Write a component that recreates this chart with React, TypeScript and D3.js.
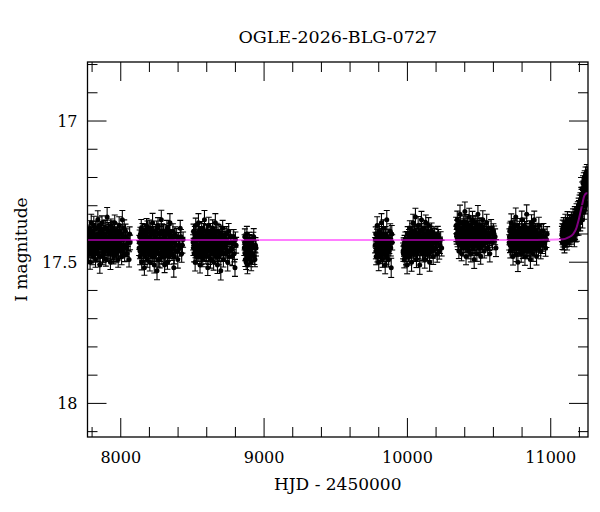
import React from "react";
import * as d3 from "d3";

// [HJD - 2450000, I mag, error] per observing season
type Obs = [number, number, number];

const season2017: Obs[] = [
  [7772,17.42,0.024],[7775,17.47,0.027],[7779,17.39,0.022],[7783,17.44,0.031],[7786,17.50,0.025],[7790,17.41,0.028],[7794,17.36,0.030],[7797,17.45,0.023],[7801,17.43,0.026],[7806,17.48,0.029],
  [7809,17.40,0.024],[7812,17.37,0.033],[7816,17.46,0.025],[7821,17.42,0.021],[7824,17.49,0.028],[7828,17.38,0.026],[7831,17.44,0.030],[7835,17.41,0.024],[7840,17.35,0.032],[7843,17.47,0.027],
  [7847,17.43,0.023],[7851,17.40,0.025],[7854,17.51,0.029],[7858,17.39,0.022],[7862,17.45,0.026],[7866,17.42,0.031],[7869,17.36,0.024],[7873,17.48,0.027],[7878,17.44,0.025],[7881,17.40,0.030],
  [7885,17.46,0.023],[7889,17.38,0.028],[7893,17.43,0.026],[7896,17.49,0.024],[7900,17.41,0.029],[7905,17.34,0.034],[7908,17.45,0.025],[7912,17.42,0.022],[7916,17.47,0.027],[7919,17.39,0.024],
  [7923,17.44,0.030],[7928,17.50,0.026],[7931,17.37,0.023],[7935,17.43,0.028],[7939,17.41,0.025],[7943,17.46,0.031],[7946,17.38,0.024],[7950,17.48,0.026],[7955,17.42,0.029],[7958,17.36,0.027],
  [7962,17.45,0.023],[7966,17.40,0.025],[7970,17.47,0.030],[7973,17.43,0.024],[7978,17.39,0.026],[7982,17.49,0.028],[7985,17.44,0.022],[7989,17.37,0.031],[7994,17.42,0.025],[7998,17.46,0.027],
  [8002,17.40,0.024],[8006,17.48,0.029],[8011,17.35,0.033],[8016,17.44,0.026],[8021,17.41,0.023],[8027,17.47,0.028],[8033,17.39,0.025],[8040,17.45,0.030],[8049,17.42,0.024],[8058,17.49,0.027],[8065,17.43,0.026],
  [7774,17.44,0.026],[7777,17.41,0.029],[7781,17.46,0.024],[7784,17.38,0.027],[7788,17.43,0.025],[7792,17.47,0.030],[7795,17.40,0.023],[7799,17.42,0.028],[7803,17.45,0.025],[7807,17.39,0.027],
  [7810,17.44,0.029],[7814,17.41,0.024],[7818,17.47,0.026],[7822,17.43,0.031],[7826,17.38,0.025],[7829,17.45,0.027],[7833,17.42,0.023],[7837,17.46,0.028],[7841,17.40,0.026],[7845,17.44,0.024],
  [7849,17.37,0.030],[7852,17.43,0.025],[7856,17.48,0.027],[7860,17.41,0.029],[7864,17.44,0.024],[7867,17.39,0.026],[7871,17.45,0.028],[7875,17.42,0.025],[7879,17.47,0.030],[7883,17.40,0.023],
  [7887,17.43,0.027],[7891,17.45,0.025],[7895,17.38,0.029],[7898,17.44,0.026],[7902,17.41,0.024],[7906,17.46,0.028],[7910,17.43,0.025],[7914,17.39,0.030],[7918,17.45,0.027],[7921,17.42,0.024],
  [7925,17.47,0.026],[7929,17.40,0.029],[7933,17.44,0.025],[7937,17.38,0.027],[7941,17.43,0.023],[7944,17.46,0.028],[7948,17.41,0.026],[7952,17.44,0.024],[7956,17.39,0.030],[7960,17.47,0.027],
  [7964,17.42,0.025],[7968,17.45,0.029],[7971,17.40,0.024],[7975,17.44,0.026],[7980,17.41,0.028],[7983,17.46,0.025],[7987,17.43,0.027],[7991,17.39,0.024],[7996,17.45,0.029],[8000,17.42,0.026],
  [8004,17.44,0.025],[8008,17.40,0.028],[8013,17.46,0.024],[8018,17.42,0.027],[8024,17.38,0.030],[8030,17.44,0.025],[8036,17.41,0.028],[8044,17.47,0.026],[8053,17.43,0.029],[8062,17.40,0.025],
];

const season2018: Obs[] = [
  [8128,17.45,0.026],[8132,17.41,0.024],[8135,17.48,0.029],[8139,17.43,0.023],[8143,17.38,0.031],[8146,17.50,0.027],[8150,17.44,0.025],[8154,17.40,0.028],[8158,17.47,0.024],[8161,17.42,0.030],
  [8165,17.52,0.026],[8169,17.39,0.023],[8173,17.45,0.027],[8177,17.43,0.032],[8180,17.37,0.025],[8184,17.49,0.028],[8188,17.41,0.024],[8192,17.46,0.026],[8196,17.44,0.022],[8199,17.38,0.029],
  [8203,17.50,0.031],[8207,17.42,0.025],[8211,17.47,0.027],[8215,17.40,0.024],[8218,17.45,0.030],[8222,17.36,0.033],[8226,17.48,0.026],[8230,17.43,0.023],[8234,17.51,0.028],[8237,17.41,0.025],
  [8241,17.46,0.027],[8245,17.39,0.024],[8249,17.44,0.029],[8253,17.53,0.032],[8256,17.42,0.026],[8260,17.37,0.028],[8264,17.47,0.023],[8268,17.43,0.025],[8272,17.49,0.030],[8275,17.40,0.027],
  [8279,17.45,0.024],[8283,17.35,0.034],[8287,17.48,0.026],[8291,17.42,0.028],[8295,17.46,0.025],[8298,17.39,0.023],[8302,17.44,0.029],[8306,17.51,0.027],[8310,17.41,0.024],[8314,17.47,0.031],
  [8318,17.43,0.026],[8322,17.38,0.028],[8326,17.50,0.025],[8330,17.45,0.023],[8334,17.40,0.030],[8338,17.48,0.027],[8343,17.36,0.032],[8348,17.44,0.025],[8353,17.42,0.028],[8358,17.47,0.024],
  [8364,17.39,0.026],[8370,17.52,0.033],[8376,17.43,0.027],[8383,17.46,0.025],[8390,17.41,0.029],[8398,17.49,0.031],[8406,17.44,0.026],[8415,17.38,0.028],[8425,17.47,0.030],[8435,17.42,0.027],
  [8130,17.43,0.025],[8134,17.46,0.028],[8137,17.40,0.024],[8141,17.45,0.027],[8144,17.42,0.030],[8148,17.47,0.025],[8152,17.39,0.027],[8156,17.44,0.024],[8160,17.41,0.029],[8163,17.46,0.026],
  [8167,17.43,0.024],[8171,17.48,0.028],[8175,17.40,0.025],[8178,17.45,0.027],[8182,17.42,0.030],[8186,17.38,0.026],[8190,17.44,0.024],[8194,17.47,0.028],[8197,17.41,0.025],[8201,17.45,0.027],
  [8205,17.43,0.024],[8209,17.39,0.029],[8213,17.46,0.026],[8216,17.42,0.025],[8220,17.48,0.028],[8224,17.44,0.024],[8228,17.40,0.027],[8232,17.45,0.030],[8235,17.43,0.025],[8239,17.47,0.027],
  [8243,17.41,0.024],[8247,17.46,0.028],[8251,17.38,0.026],[8254,17.44,0.025],[8258,17.42,0.029],[8262,17.49,0.027],[8266,17.45,0.024],[8270,17.40,0.028],[8273,17.43,0.025],[8277,17.47,0.027],
  [8281,17.42,0.030],[8285,17.44,0.024],[8289,17.39,0.026],[8293,17.46,0.028],[8296,17.43,0.025],[8300,17.48,0.027],[8304,17.41,0.024],[8308,17.45,0.029],[8312,17.42,0.026],[8316,17.46,0.025],
  [8320,17.40,0.028],[8324,17.44,0.024],[8328,17.47,0.027],[8332,17.42,0.025],[8336,17.45,0.030],[8340,17.39,0.026],[8345,17.44,0.024],[8350,17.46,0.028],[8355,17.41,0.025],[8361,17.45,0.027],
  [8367,17.43,0.029],[8373,17.48,0.026],[8379,17.40,0.025],[8386,17.44,0.028],[8394,17.46,0.027],[8402,17.42,0.025],[8410,17.45,0.029],[8420,17.41,0.026],[8430,17.44,0.028],
];

const season2019: Obs[] = [
  [8505,17.43,0.027],[8508,17.39,0.025],[8512,17.47,0.029],[8516,17.42,0.023],[8519,17.50,0.031],[8523,17.37,0.026],[8527,17.45,0.024],[8531,17.41,0.028],[8534,17.48,0.025],[8538,17.44,0.030],
  [8542,17.36,0.032],[8546,17.46,0.026],[8550,17.42,0.023],[8553,17.51,0.028],[8557,17.40,0.025],[8561,17.45,0.027],[8565,17.38,0.024],[8569,17.43,0.029],[8572,17.49,0.026],[8576,17.41,0.031],
  [8580,17.47,0.024],[8584,17.35,0.033],[8588,17.44,0.025],[8591,17.42,0.028],[8595,17.48,0.026],[8599,17.39,0.023],[8603,17.45,0.030],[8607,17.52,0.027],[8610,17.43,0.025],[8614,17.37,0.029],
  [8618,17.46,0.024],[8622,17.41,0.026],[8626,17.49,0.031],[8629,17.44,0.023],[8633,17.40,0.027],[8637,17.47,0.025],[8641,17.38,0.030],[8645,17.43,0.024],[8648,17.50,0.028],[8652,17.42,0.026],
  [8656,17.45,0.023],[8660,17.36,0.032],[8664,17.48,0.027],[8667,17.41,0.025],[8671,17.44,0.029],[8675,17.51,0.030],[8679,17.39,0.024],[8683,17.46,0.026],[8686,17.42,0.028],[8690,17.47,0.025],
  [8694,17.40,0.031],[8698,17.53,0.033],[8702,17.44,0.026],[8706,17.43,0.024],[8711,17.38,0.028],[8716,17.49,0.027],[8721,17.45,0.025],[8727,17.41,0.030],[8733,17.47,0.026],[8739,17.42,0.024],
  [8746,17.50,0.031],[8753,17.39,0.027],[8761,17.46,0.025],[8770,17.43,0.029],[8779,17.48,0.032],[8788,17.41,0.026],[8797,17.52,0.030],[8805,17.44,0.028],
  [8507,17.45,0.026],[8510,17.42,0.028],[8514,17.44,0.025],[8517,17.40,0.027],[8521,17.46,0.024],[8525,17.43,0.029],[8529,17.48,0.026],[8532,17.41,0.025],[8536,17.45,0.028],[8540,17.42,0.024],
  [8544,17.47,0.027],[8548,17.39,0.030],[8552,17.44,0.025],[8555,17.46,0.027],[8559,17.42,0.024],[8563,17.48,0.028],[8567,17.40,0.026],[8571,17.45,0.025],[8574,17.43,0.029],[8578,17.39,0.027],
  [8582,17.46,0.024],[8586,17.42,0.026],[8590,17.45,0.028],[8593,17.41,0.025],[8597,17.47,0.027],[8601,17.43,0.024],[8605,17.40,0.029],[8609,17.45,0.026],[8612,17.42,0.025],[8616,17.48,0.028],
  [8620,17.44,0.024],[8624,17.39,0.027],[8628,17.46,0.025],[8631,17.42,0.030],[8635,17.45,0.026],[8639,17.43,0.024],[8643,17.47,0.028],[8647,17.41,0.025],[8650,17.44,0.027],[8654,17.40,0.024],
  [8658,17.46,0.029],[8662,17.43,0.026],[8666,17.45,0.025],[8669,17.39,0.028],[8673,17.47,0.027],[8677,17.42,0.024],[8681,17.44,0.026],[8684,17.48,0.029],[8688,17.41,0.025],[8692,17.45,0.027],
  [8696,17.43,0.024],[8700,17.46,0.028],[8704,17.40,0.026],[8708,17.45,0.025],[8713,17.42,0.029],[8718,17.47,0.027],[8724,17.43,0.024],[8730,17.45,0.028],[8736,17.40,0.026],[8742,17.46,0.025],
  [8749,17.43,0.029],[8757,17.48,0.027],[8765,17.41,0.025],[8774,17.45,0.028],[8783,17.43,0.026],[8792,17.47,0.029],[8800,17.42,0.027],
];

const season2020: Obs[] = [
  [8862,17.45,0.026],[8866,17.41,0.028],[8869,17.49,0.025],[8873,17.43,0.030],[8877,17.47,0.024],[8880,17.40,0.027],[8884,17.51,0.031],[8888,17.44,0.025],[8892,17.46,0.029],
  [8896,17.42,0.026],[8900,17.48,0.024],[8905,17.45,0.028],[8910,17.50,0.030],[8915,17.43,0.025],[8921,17.47,0.027],[8928,17.41,0.029],[8936,17.49,0.026],[8944,17.45,0.028],
  [8864,17.43,0.027],[8868,17.47,0.025],[8871,17.44,0.029],[8875,17.50,0.026],[8879,17.45,0.028],[8882,17.42,0.025],[8886,17.48,0.027],[8890,17.44,0.030],[8894,17.46,0.025],
  [8898,17.43,0.028],[8902,17.49,0.026],[8907,17.44,0.027],[8913,17.47,0.025],[8918,17.45,0.029],[8925,17.42,0.026],[8932,17.48,0.028],[8940,17.44,0.027],
];

const season2022: Obs[] = [
  [9775,17.44,0.027],[9779,17.40,0.025],[9782,17.48,0.029],[9786,17.42,0.024],[9789,17.37,0.031],[9793,17.46,0.026],[9797,17.43,0.028],[9800,17.50,0.030],[9804,17.39,0.025],[9808,17.45,0.027],
  [9811,17.41,0.023],[9815,17.47,0.029],[9819,17.36,0.032],[9822,17.44,0.026],[9826,17.49,0.028],[9830,17.42,0.024],[9833,17.38,0.030],[9837,17.46,0.025],[9841,17.43,0.027],[9845,17.51,0.031],
  [9848,17.40,0.026],[9852,17.45,0.024],[9856,17.35,0.033],[9860,17.47,0.028],[9864,17.42,0.025],[9869,17.49,0.027],[9874,17.44,0.029],[9880,17.39,0.026],[9887,17.52,0.034],[9894,17.43,0.027],
  [9777,17.42,0.026],[9780,17.46,0.028],[9784,17.44,0.025],[9788,17.41,0.027],[9791,17.47,0.029],[9795,17.43,0.024],[9799,17.45,0.027],[9802,17.40,0.026],[9806,17.44,0.028],[9810,17.48,0.025],
  [9813,17.42,0.027],[9817,17.45,0.024],[9820,17.41,0.029],[9824,17.46,0.026],[9828,17.43,0.025],[9831,17.47,0.028],[9835,17.40,0.026],[9839,17.44,0.027],[9843,17.42,0.025],[9846,17.46,0.029],
  [9850,17.43,0.026],[9854,17.48,0.027],[9858,17.41,0.025],[9862,17.45,0.028],[9866,17.43,0.026],[9871,17.46,0.029],[9877,17.42,0.027],[9884,17.45,0.028],[9891,17.40,0.030],
];

const season2023: Obs[] = [
  [9970,17.46,0.028],[9974,17.44,0.026],[9978,17.49,0.030],[9982,17.45,0.025],[9986,17.42,0.027],[9990,17.48,0.029],[9994,17.44,0.024],[9998,17.51,0.031],[10002,17.40,0.026],[10006,17.46,0.028],
  [10010,17.42,0.025],[10013,17.48,0.030],[10017,17.38,0.027],[10021,17.45,0.024],[10025,17.43,0.029],[10029,17.50,0.032],[10033,17.39,0.026],[10036,17.44,0.025],[10040,17.36,0.030],[10044,17.47,0.027],
  [10048,17.41,0.024],[10052,17.45,0.028],[10056,17.34,0.031],[10059,17.43,0.026],[10063,17.49,0.029],[10067,17.40,0.025],[10071,17.46,0.027],[10075,17.37,0.032],[10079,17.44,0.024],[10082,17.42,0.028],
  [10086,17.51,0.033],[10090,17.39,0.026],[10094,17.45,0.025],[10098,17.35,0.030],[10102,17.43,0.027],[10105,17.47,0.024],[10109,17.41,0.029],[10113,17.44,0.026],[10117,17.38,0.028],[10121,17.49,0.031],
  [10125,17.42,0.025],[10128,17.36,0.027],[10132,17.45,0.029],[10136,17.40,0.024],[10140,17.47,0.026],[10144,17.43,0.030],[10148,17.37,0.028],[10151,17.44,0.025],[10155,17.50,0.032],[10159,17.41,0.027],
  [10164,17.46,0.024],[10169,17.39,0.029],[10174,17.43,0.026],[10180,17.48,0.028],[10186,17.40,0.025],[10193,17.45,0.031],[10200,17.42,0.027],[10208,17.47,0.030],[10217,17.41,0.026],[10227,17.44,0.029],[10239,17.45,0.028],
  [9972,17.47,0.027],[9976,17.45,0.029],[9980,17.43,0.025],[9984,17.47,0.028],[9988,17.44,0.026],[9992,17.46,0.025],[9996,17.42,0.029],[10000,17.45,0.027],[10004,17.43,0.024],[10008,17.47,0.028],
  [10011,17.41,0.026],[10015,17.45,0.025],[10019,17.43,0.029],[10023,17.40,0.027],[10027,17.46,0.024],[10031,17.42,0.028],[10034,17.44,0.026],[10038,17.40,0.025],[10042,17.45,0.029],[10046,17.43,0.027],
  [10050,17.39,0.024],[10054,17.46,0.028],[10057,17.42,0.026],[10061,17.44,0.025],[10065,17.41,0.029],[10069,17.47,0.027],[10073,17.43,0.024],[10077,17.40,0.028],[10080,17.45,0.026],[10084,17.42,0.025],
  [10088,17.46,0.029],[10092,17.41,0.027],[10096,17.44,0.024],[10100,17.39,0.028],[10103,17.45,0.026],[10107,17.43,0.025],[10111,17.47,0.029],[10115,17.40,0.027],[10119,17.44,0.024],[10123,17.42,0.028],
  [10126,17.46,0.026],[10130,17.41,0.025],[10134,17.44,0.029],[10138,17.43,0.027],[10142,17.39,0.024],[10146,17.45,0.028],[10150,17.42,0.026],[10153,17.47,0.025],[10157,17.43,0.029],[10162,17.40,0.027],
  [10167,17.44,0.025],[10172,17.42,0.028],[10177,17.46,0.026],[10183,17.43,0.027],[10190,17.41,0.029],[10197,17.45,0.026],[10204,17.43,0.028],[10212,17.40,0.027],[10222,17.46,0.029],[10232,17.42,0.028],
];

const season2024: Obs[] = [
  [10340,17.37,0.029],[10344,17.41,0.026],[10348,17.35,0.031],[10352,17.43,0.025],[10355,17.39,0.028],[10359,17.46,0.027],[10363,17.40,0.024],[10367,17.33,0.032],[10371,17.44,0.026],[10374,17.41,0.029],
  [10378,17.47,0.025],[10382,17.38,0.027],[10386,17.42,0.030],[10390,17.36,0.024],[10393,17.45,0.028],[10397,17.40,0.026],[10401,17.32,0.033],[10405,17.43,0.025],[10409,17.48,0.029],[10412,17.39,0.027],
  [10416,17.44,0.024],[10420,17.37,0.030],[10424,17.41,0.026],[10428,17.46,0.028],[10431,17.34,0.031],[10435,17.42,0.025],[10439,17.40,0.027],[10443,17.47,0.029],[10447,17.38,0.024],[10450,17.43,0.026],
  [10454,17.35,0.030],[10458,17.45,0.027],[10462,17.41,0.025],[10466,17.49,0.032],[10469,17.39,0.026],[10473,17.44,0.028],[10477,17.36,0.024],[10481,17.42,0.029],[10485,17.47,0.027],[10488,17.40,0.025],
  [10492,17.33,0.031],[10496,17.43,0.026],[10500,17.38,0.028],[10504,17.45,0.024],[10507,17.41,0.030],[10511,17.48,0.027],[10515,17.37,0.025],[10519,17.42,0.029],[10523,17.44,0.026],[10526,17.35,0.032],
  [10531,17.40,0.027],[10536,17.46,0.025],[10541,17.39,0.028],[10547,17.43,0.026],[10553,17.36,0.030],[10560,17.45,0.027],[10567,17.41,0.024],[10575,17.47,0.029],[10584,17.38,0.031],[10594,17.43,0.026],[10605,17.40,0.028],[10618,17.45,0.030],
  [10342,17.40,0.027],[10346,17.38,0.029],[10350,17.42,0.025],[10354,17.37,0.028],[10357,17.43,0.026],[10361,17.39,0.025],[10365,17.41,0.029],[10369,17.36,0.027],[10372,17.42,0.024],[10376,17.39,0.028],
  [10380,17.44,0.026],[10384,17.40,0.025],[10388,17.38,0.029],[10391,17.43,0.027],[10395,17.37,0.024],[10399,17.41,0.028],[10403,17.39,0.026],[10407,17.44,0.025],[10410,17.36,0.029],[10414,17.42,0.027],
  [10418,17.40,0.024],[10422,17.45,0.028],[10426,17.38,0.026],[10429,17.41,0.025],[10433,17.39,0.029],[10437,17.43,0.027],[10441,17.37,0.024],[10445,17.42,0.028],[10448,17.40,0.026],[10452,17.44,0.025],
  [10456,17.38,0.029],[10460,17.41,0.027],[10464,17.36,0.024],[10467,17.43,0.028],[10471,17.40,0.026],[10475,17.38,0.025],[10479,17.44,0.029],[10483,17.41,0.027],[10486,17.37,0.024],[10490,17.42,0.028],
  [10494,17.39,0.026],[10498,17.45,0.025],[10502,17.40,0.029],[10505,17.37,0.027],[10509,17.43,0.024],[10513,17.41,0.028],[10517,17.39,0.026],[10521,17.44,0.025],[10525,17.40,0.029],[10528,17.38,0.027],
  [10533,17.42,0.025],[10538,17.39,0.028],[10544,17.43,0.026],[10550,17.40,0.027],[10557,17.42,0.029],[10564,17.38,0.026],[10571,17.43,0.028],[10579,17.40,0.027],[10589,17.42,0.029],[10600,17.39,0.026],[10612,17.41,0.028],
];

const season2025: Obs[] = [
  [10710,17.43,0.027],[10714,17.39,0.029],[10718,17.46,0.025],[10722,17.41,0.028],[10725,17.36,0.031],[10729,17.44,0.026],[10733,17.40,0.024],[10737,17.48,0.030],[10741,17.42,0.027],[10744,17.37,0.025],
  [10748,17.45,0.029],[10752,17.41,0.026],[10756,17.34,0.032],[10760,17.47,0.028],[10763,17.43,0.024],[10767,17.39,0.027],[10771,17.50,0.033],[10775,17.42,0.026],[10779,17.45,0.029],[10782,17.38,0.025],
  [10786,17.44,0.028],[10790,17.40,0.024],[10794,17.47,0.030],[10798,17.35,0.031],[10801,17.42,0.026],[10805,17.46,0.027],[10809,17.39,0.025],[10813,17.43,0.029],[10817,17.37,0.026],[10820,17.48,0.031],
  [10824,17.41,0.024],[10828,17.44,0.027],[10832,17.33,0.033],[10836,17.42,0.026],[10839,17.46,0.028],[10843,17.40,0.025],[10847,17.45,0.029],[10851,17.38,0.027],[10855,17.43,0.024],[10858,17.49,0.032],
  [10862,17.41,0.026],[10866,17.36,0.028],[10870,17.44,0.025],[10874,17.40,0.030],[10877,17.47,0.027],[10881,17.42,0.024],[10885,17.35,0.031],[10889,17.45,0.026],[10893,17.39,0.028],[10896,17.43,0.025],
  [10901,17.48,0.030],[10906,17.40,0.027],[10911,17.44,0.024],[10917,17.37,0.029],[10923,17.42,0.026],[10930,17.46,0.028],[10937,17.39,0.025],[10945,17.43,0.031],[10954,17.41,0.027],[10964,17.45,0.029],[10975,17.40,0.026],
  [10712,17.41,0.028],[10716,17.44,0.026],[10720,17.38,0.025],[10723,17.43,0.029],[10727,17.40,0.027],[10731,17.45,0.024],[10735,17.39,0.028],[10739,17.42,0.026],[10742,17.44,0.025],[10746,17.38,0.029],
  [10750,17.43,0.027],[10754,17.40,0.024],[10758,17.45,0.028],[10761,17.41,0.026],[10765,17.37,0.025],[10769,17.43,0.029],[10773,17.40,0.027],[10777,17.44,0.024],[10780,17.42,0.028],[10784,17.39,0.026],
  [10788,17.45,0.025],[10792,17.41,0.029],[10796,17.43,0.027],[10799,17.38,0.024],[10803,17.44,0.028],[10807,17.41,0.026],[10811,17.46,0.025],[10815,17.40,0.029],[10818,17.43,0.027],[10822,17.38,0.024],
  [10826,17.42,0.028],[10830,17.45,0.026],[10834,17.40,0.025],[10837,17.43,0.029],[10841,17.39,0.027],[10845,17.44,0.024],[10849,17.41,0.028],[10853,17.46,0.026],[10856,17.40,0.025],[10860,17.43,0.029],
  [10864,17.39,0.027],[10868,17.42,0.024],[10872,17.45,0.028],[10875,17.41,0.026],[10879,17.38,0.025],[10883,17.43,0.029],[10887,17.40,0.027],[10891,17.44,0.024],[10894,17.42,0.028],[10898,17.39,0.026],
  [10903,17.43,0.025],[10908,17.41,0.029],[10914,17.45,0.027],[10920,17.40,0.026],[10926,17.43,0.028],[10933,17.41,0.025],[10941,17.44,0.029],[10949,17.39,0.027],[10959,17.43,0.026],[10970,17.42,0.028],
];

const season2026: Obs[] = [
  [11078,17.40,0.027],[11081,17.43,0.025],[11084,17.38,0.029],[11087,17.42,0.026],[11090,17.37,0.028],[11093,17.41,0.024],[11096,17.44,0.027],[11099,17.39,0.025],[11102,17.36,0.030],[11105,17.42,0.026],
  [11108,17.40,0.028],[11111,17.38,0.024],[11114,17.43,0.027],[11117,17.35,0.029],[11120,17.41,0.025],[11123,17.39,0.026],[11126,17.37,0.028],[11129,17.42,0.024],[11132,17.40,0.027],[11135,17.36,0.029],
  [11138,17.38,0.025],[11141,17.41,0.026],[11144,17.35,0.028],[11147,17.39,0.024],[11150,17.37,0.027],[11153,17.40,0.025],[11156,17.34,0.029],[11159,17.38,0.026],[11162,17.36,0.028],[11165,17.42,0.025],
  [11168,17.33,0.027],[11171,17.37,0.024],[11174,17.40,0.028],[11177,17.35,0.026],[11180,17.32,0.027],[11183,17.38,0.025],[11186,17.34,0.028],[11189,17.31,0.024],[11192,17.36,0.026],[11195,17.30,0.027],
  [11198,17.33,0.025],[11201,17.29,0.028],[11204,17.34,0.024],[11207,17.28,0.026],[11210,17.31,0.027],[11213,17.26,0.025],[11216,17.30,0.028],[11219,17.24,0.024],[11222,17.35,0.029],[11225,17.22,0.026],
  [11228,17.27,0.025],[11231,17.21,0.027],[11234,17.32,0.028],[11237,17.20,0.024],[11240,17.25,0.026],[11243,17.19,0.027],[11246,17.23,0.025],[11249,17.29,0.028],[11252,17.18,0.026],[11255,17.22,0.025],[11258,17.20,0.027],
  [11080,17.39,0.026],[11083,17.41,0.028],[11086,17.39,0.025],[11089,17.43,0.027],[11092,17.38,0.026],[11095,17.40,0.029],[11098,17.42,0.025],[11101,17.39,0.027],[11104,17.41,0.024],[11107,17.37,0.028],
  [11110,17.40,0.026],[11113,17.42,0.025],[11116,17.38,0.029],[11119,17.40,0.027],[11122,17.37,0.024],[11125,17.41,0.028],[11128,17.39,0.026],[11131,17.36,0.025],[11134,17.40,0.029],[11137,17.38,0.027],
  [11140,17.39,0.025],[11143,17.37,0.028],[11146,17.40,0.026],[11149,17.36,0.025],[11152,17.38,0.029],[11155,17.37,0.027],[11158,17.39,0.024],[11161,17.35,0.028],[11164,17.38,0.026],[11167,17.36,0.025],
  [11170,17.39,0.029],[11173,17.34,0.027],[11176,17.37,0.024],[11179,17.35,0.028],[11182,17.40,0.026],[11185,17.33,0.025],[11188,17.36,0.029],[11191,17.33,0.027],[11194,17.38,0.024],[11197,17.31,0.028],
  [11200,17.35,0.026],[11203,17.31,0.025],[11206,17.36,0.029],[11209,17.29,0.027],[11212,17.33,0.024],[11215,17.27,0.028],[11218,17.32,0.026],[11221,17.26,0.025],[11224,17.30,0.029],[11227,17.24,0.027],
  [11230,17.29,0.024],[11233,17.23,0.028],[11236,17.27,0.026],[11239,17.22,0.025],[11242,17.30,0.029],[11245,17.21,0.027],[11248,17.25,0.024],[11251,17.21,0.028],[11254,17.26,0.026],[11257,17.19,0.027],
];

const seasons = [season2017, season2018, season2019, season2020, season2022, season2023, season2024, season2025, season2026];

// model light curve
const modelHjd = [7768, 10900, 11085, 11120, 11157, 11180, 11192, 11205, 11216, 11225, 11232, 11240, 11251, 11262];
const modelMag = [17.421, 17.421, 17.419, 17.413, 17.4, 17.378, 17.356, 17.328, 17.303, 17.283, 17.268, 17.26, 17.256, 17.255];

const xMajor = [8000, 9000, 10000, 11000];
const yMajor = [17, 17.5, 18];
const yLabels = ["17", "17.5", "18"];

const W = 600;
const H = 512;
const margin = { top: 62, right: 12, bottom: 75, left: 87.5 };
const font = "'DejaVu Serif', serif";

export default function App() {
  const x = d3.scaleLinear().domain([7768, 11260]).range([margin.left, W - margin.right]);
  const y = d3.scaleLinear().domain([16.791, 18.119]).range([margin.top, H - margin.bottom]);
  const [x0, x1] = x.range();
  const [y0, y1] = y.range();

  const xMinor = d3.range(7800, 11201, 200).filter((v) => !xMajor.includes(v));
  const yMinor = d3.range(16.8, 18.11, 0.1).filter((v) => !yMajor.some((m) => Math.abs(m - v) < 1e-6));

  const model = d3
    .line<number>()
    .x((d) => x(d))
    .y((_, i) => y(modelMag[i]))
    .curve(d3.curveMonotoneX)(modelHjd);

  const obs = seasons.flat();
  const cap = 3;

  return (
    <svg width={W} height={H} style={{ position: "absolute", left: 0, top: 0, background: "#fff" }}>
      <defs>
        <clipPath id="plot">
          <rect x={x0} y={y0} width={x1 - x0} height={y1 - y0} />
        </clipPath>
      </defs>

      <g clipPath="url(#plot)">
        <g stroke="#000" strokeWidth={1.1}>
          {obs.map(([t, m, e], i) => {
            const cx = x(t);
            const ya = y(m - e);
            const yb = y(m + e);
            return (
              <g key={i}>
                <line x1={cx} x2={cx} y1={ya} y2={yb} />
                <line x1={cx - cap} x2={cx + cap} y1={ya} y2={ya} />
                <line x1={cx - cap} x2={cx + cap} y1={yb} y2={yb} />
              </g>
            );
          })}
        </g>
        <g fill="#000">
          {obs.map(([t, m], i) => (
            <circle key={i} cx={x(t)} cy={y(m)} r={2.5} />
          ))}
        </g>
        <path d={model ?? ""} fill="none" stroke="#ff00ff" strokeOpacity={0.5} strokeWidth={2} />
      </g>

      {/* ticks on all four sides, pointing inward */}
      <g stroke="#000" strokeWidth={1}>
        {xMajor.map((v) => (
          <g key={"xM" + v}>
            <line x1={x(v)} x2={x(v)} y1={y1} y2={y1 - 19} />
            <line x1={x(v)} x2={x(v)} y1={y0} y2={y0 + 19} />
          </g>
        ))}
        {xMinor.map((v) => (
          <g key={"xm" + v}>
            <line x1={x(v)} x2={x(v)} y1={y1} y2={y1 - 10} />
            <line x1={x(v)} x2={x(v)} y1={y0} y2={y0 + 10} />
          </g>
        ))}
        {yMajor.map((v) => (
          <g key={"yM" + v}>
            <line x1={x0} x2={x0 + 19} y1={y(v)} y2={y(v)} />
            <line x1={x1} x2={x1 - 19} y1={y(v)} y2={y(v)} />
          </g>
        ))}
        {yMinor.map((v) => (
          <g key={"ym" + v}>
            <line x1={x0} x2={x0 + 10} y1={y(v)} y2={y(v)} />
            <line x1={x1} x2={x1 - 10} y1={y(v)} y2={y(v)} />
          </g>
        ))}
      </g>
      <rect x={x0} y={y0} width={x1 - x0} height={y1 - y0} fill="none" stroke="#000" strokeWidth={1.3} />

      <g fontFamily={font} fontSize={16} fill="#000">
        {xMajor.map((v) => (
          <text key={v} x={x(v)} y={y1 + 25.6} textAnchor="middle">
            {v}
          </text>
        ))}
        {yMajor.map((v, i) => (
          <text key={v} x={x0 - 10} y={y(v) + 5.8} textAnchor="end">
            {yLabels[i]}
          </text>
        ))}
      </g>

      <text x={(x0 + x1) / 2} y={43} textAnchor="middle" fontFamily={font} fontSize={17.5}>
        OGLE-2026-BLG-0727
      </text>
      <text x={(x0 + x1) / 2} y={490} textAnchor="middle" fontFamily={font} fontSize={17}>
        HJD - 2450000
      </text>
      <text
        transform={`translate(26.5,${(y0 + y1) / 2}) rotate(-90)`}
        textAnchor="middle"
        fontFamily={font}
        fontSize={17}
      >
        I magnitude
      </text>
    </svg>
  );
}
